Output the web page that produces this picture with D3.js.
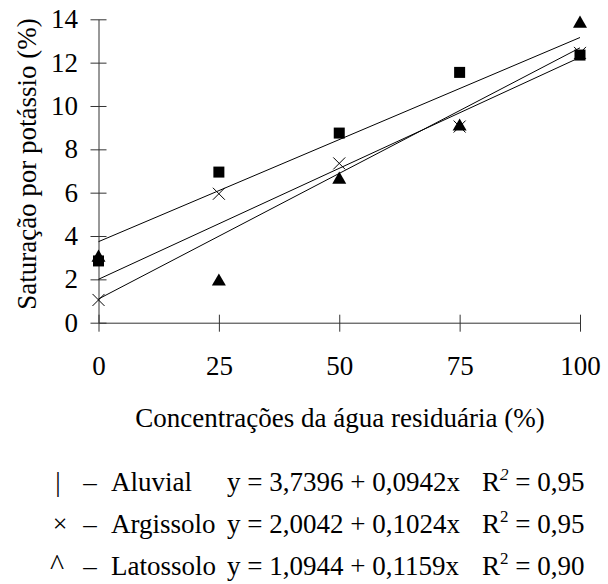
<!DOCTYPE html>
<html>
<head>
<meta charset="utf-8">
<script src="https://cdn.jsdelivr.net/npm/d3@7"></script>
<style>
  body { margin: 0; background: #fff; }
  svg text { font-family: "Liberation Serif", "Times New Roman", serif; fill: #000; }
</style>
</head>
<body>
<div id="chart"></div>
<script>
const WIDTH = 608;
const HEIGHT = 584;
const FONT = 27;

// dados
const conc = [0, 25, 50, 75, 100];
const aluvial = [2.85, 6.95, 8.75, 11.55, 12.35];
const argissolo = [1.05, 5.95, 7.35, 9.05, 12.45];
const latossolo = [3.0, 1.9, 6.6, 9.05, 13.8];

const intercepts = [3.7396, 2.0042, 1.0944];
const slopes = [0.0942, 0.1024, 0.1159];

const xTicks = [0, 25, 50, 75, 100];
const yTicks = [0, 2, 4, 6, 8, 10, 12, 14];

const legendSymbols = ["|", "\u00d7", "^"];
const legendNames = ["Aluvial", "Argissolo", "Latossolo"];
const legendEq = ["y = 3,7396 + 0,0942x", "y = 2,0042 + 0,1024x", "y = 1,0944 + 0,1159x"];
const legendR2 = ["0,95", "0,95", "0,90"];

const svg = d3
    .select("#chart")
    .append("svg")
    .attr("width", WIDTH)
    .attr("height", HEIGHT);

const x = d3.scaleLinear().domain([0, 100]).range([98.5, 580]);
const y = d3.scaleLinear().domain([0, 14]).range([322.7, 19.3]);

// eixos
const yAxis = svg.append("g")
    .attr("transform", `translate(${x(0)},0)`)
    .call(d3.axisLeft(y).tickValues(yTicks).tickSize(8).tickSizeOuter(0).tickPadding(12.5));
yAxis.selectAll(".tick line").attr("x1", 8);

const xAxis = svg.append("g")
    .attr("transform", `translate(0,${y(0)})`)
    .call(d3.axisBottom(x).tickValues(xTicks).tickSize(9).tickSizeOuter(0).tickPadding(24));
xAxis.selectAll(".tick line").attr("y1", -8);

svg.selectAll(".domain, .tick line").attr("stroke", "#333").attr("stroke-width", 1);
svg.selectAll(".tick text")
    .style("font-family", '"Liberation Serif", serif')
    .style("font-size", FONT + "px")
    .attr("fill", "#000");

// retas de regressão
intercepts.forEach((b, i) => {
    svg.append("line")
        .attr("x1", x(0)).attr("y1", y(b))
        .attr("x2", x(100)).attr("y2", y(b + slopes[i] * 100))
        .attr("stroke", "#000")
        .attr("stroke-width", 1);
});

// pontos
const gPts = svg.append("g");

gPts.selectAll("path.tri")
    .data(latossolo)
    .enter()
    .append("path")
    .attr("class", "tri")
    .attr("d", d3.symbol().type(d3.symbolTriangle).size(85))
    .attr("transform", (d, i) => `translate(${x(conc[i])},${y(d)})`)
    .attr("fill", "#000");

gPts.selectAll("path.cross")
    .data(argissolo)
    .enter()
    .append("path")
    .attr("class", "cross")
    .attr("d", "M-6,-6L6,6M-6,6L6,-6")
    .attr("transform", (d, i) => `translate(${x(conc[i])},${y(d)})`)
    .attr("stroke", "#000")
    .attr("stroke-width", 1)
    .attr("fill", "none");

gPts.selectAll("rect")
    .data(aluvial)
    .enter()
    .append("rect")
    .attr("x", (d, i) => x(conc[i]) - 5.5)
    .attr("y", d => y(d) - 5.5)
    .attr("width", 11)
    .attr("height", 11)
    .attr("fill", "#000");

// títulos
svg.append("text")
    .attr("x", 340)
    .attr("y", 427)
    .attr("text-anchor", "middle")
    .style("font-size", FONT + "px")
    .text("Concentrações da água residuária (%)");

svg.append("text")
    .attr("transform", "translate(36,164) rotate(-90)")
    .attr("text-anchor", "middle")
    .style("font-size", FONT + "px")
    .text("Saturação por potássio (%)");

// legenda
const symX = [58, 60, 57];
const symSize = [FONT, 26, 30];
const rowY = [491, 533, 575];

legendNames.forEach((name, i) => {
    const row = svg.append("g").attr("transform", `translate(0,${rowY[i]})`);
    row.append("text")
        .attr("x", symX[i])
        .attr("y", i === 1 ? -1 : 0)
        .attr("text-anchor", "middle")
        .style("font-size", symSize[i] + "px")
        .text(legendSymbols[i]);
    row.append("text")
        .attr("x", 90)
        .attr("text-anchor", "middle")
        .style("font-size", FONT + "px")
        .text("\u2013");
    row.append("text")
        .attr("x", 111)
        .style("font-size", FONT + "px")
        .text(name);
    row.append("text")
        .attr("x", 227)
        .style("font-size", FONT + "px")
        .text(legendEq[i]);
    const r = row.append("text")
        .attr("x", 482)
        .style("font-size", FONT + "px");
    r.append("tspan").text("R");
    r.append("tspan")
        .attr("dy", -11)
        .style("font-size", "17px")
        .style("font-style", i === 0 ? "italic" : "normal")
        .text("2");
    r.append("tspan")
        .attr("dy", 11)
        .text(" = " + legendR2[i]);
});
</script>
</body>
</html>
